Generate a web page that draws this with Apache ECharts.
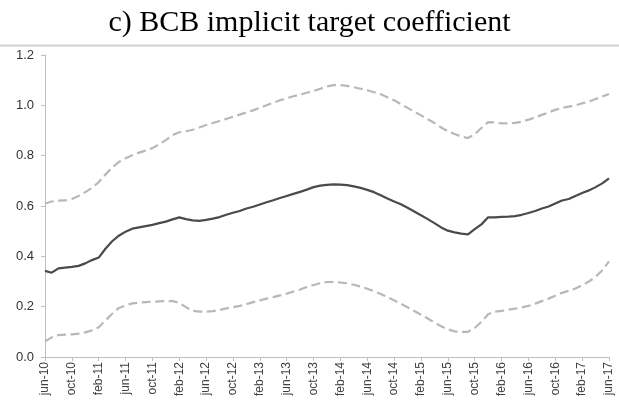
<!DOCTYPE html>
<html>
<head>
<meta charset="utf-8">
<script src="https://cdn.jsdelivr.net/npm/echarts@6/dist/echarts.min.js"></script>
<style>
html,body{margin:0;padding:0;background:#fff;}
#chart{width:619px;height:400px;}
</style>
</head>
<body>
<div id="chart"></div>
<script>
var titleText = 'c) BCB implicit target coefficient';

var categories = [
 'jun-10','jul-10','aug-10','sep-10','oct-10','nov-10','dec-10',
 'jan-11','feb-11','mar-11','apr-11','may-11','jun-11','jul-11','aug-11','sep-11','oct-11','nov-11','dec-11',
 'jan-12','feb-12','mar-12','apr-12','may-12','jun-12','jul-12','aug-12','sep-12','oct-12','nov-12','dec-12',
 'jan-13','feb-13','mar-13','apr-13','may-13','jun-13','jul-13','aug-13','sep-13','oct-13','nov-13','dec-13',
 'jan-14','feb-14','mar-14','apr-14','may-14','jun-14','jul-14','aug-14','sep-14','oct-14','nov-14','dec-14',
 'jan-15','feb-15','mar-15','apr-15','may-15','jun-15','jul-15','aug-15','sep-15','oct-15','nov-15','dec-15',
 'jan-16','feb-16','mar-16','apr-16','may-16','jun-16','jul-16','aug-16','sep-16','oct-16','nov-16','dec-16',
 'jan-17','feb-17','mar-17','apr-17','may-17','jun-17'
];

var coefficient = [
 0.342,0.335,0.352,0.355,0.358,0.362,0.372,0.385,0.395,0.43,
 0.46,0.482,0.498,0.51,0.515,0.52,0.525,0.532,0.538,0.547,
 0.555,0.548,0.543,0.541,0.545,0.55,0.556,0.565,0.573,0.58,
 0.59,0.597,0.606,0.615,0.623,0.632,0.64,0.648,0.656,0.665,
 0.675,0.681,0.684,0.686,0.685,0.683,0.678,0.672,0.664,0.655,
 0.643,0.63,0.618,0.607,0.593,0.578,0.563,0.548,0.532,0.515,
 0.502,0.495,0.49,0.487,0.508,0.527,0.555,0.555,0.557,0.558,
 0.56,0.565,0.572,0.58,0.59,0.598,0.61,0.622,0.628,0.64,
 0.652,0.662,0.675,0.69,0.71
];

var upperBand = [
 0.61,0.618,0.621,0.622,0.628,0.64,0.655,0.672,0.695,0.725,
 0.753,0.775,0.79,0.802,0.812,0.82,0.83,0.845,0.862,0.882,
 0.893,0.897,0.903,0.912,0.922,0.93,0.938,0.946,0.955,0.963,
 0.972,0.98,0.99,1.0,1.01,1.02,1.028,1.036,1.043,1.05,
 1.057,1.066,1.075,1.08,1.08,1.077,1.072,1.066,1.06,1.052,
 1.044,1.032,1.02,1.005,0.99,0.975,0.96,0.945,0.93,0.912,
 0.897,0.886,0.876,0.87,0.885,0.91,0.933,0.932,0.928,0.928,
 0.93,0.935,0.943,0.952,0.962,0.972,0.982,0.99,0.995,1.0,
 1.008,1.015,1.025,1.035,1.045
];

var lowerBand = [
 0.062,0.078,0.087,0.089,0.09,0.093,0.098,0.106,0.118,0.145,
 0.172,0.195,0.205,0.213,0.216,0.218,0.22,0.221,0.222,0.222,
 0.215,0.198,0.184,0.18,0.18,0.182,0.187,0.193,0.198,0.203,
 0.21,0.218,0.225,0.232,0.238,0.245,0.252,0.26,0.268,0.278,
 0.286,0.293,0.298,0.298,0.296,0.293,0.287,0.28,0.271,0.262,
 0.25,0.238,0.225,0.212,0.198,0.183,0.168,0.153,0.137,0.122,
 0.11,0.102,0.1,0.1,0.115,0.14,0.17,0.18,0.183,0.188,
 0.192,0.197,0.203,0.212,0.222,0.232,0.243,0.255,0.263,0.272,
 0.285,0.3,0.318,0.345,0.38
];

var yMin = 0, yMax = 1.2, yStep = 0.2;

var chart = echarts.init(document.getElementById('chart'), null, {renderer:'canvas'});
var labelFont = '"Liberation Sans", Arial, sans-serif';
chart.setOption({
  animation: false,
  backgroundColor: '#ffffff',
  title: {
    text: titleText,
    left: 'center',
    top: 3,
    textStyle: {fontFamily: '"Liberation Serif","Times New Roman",serif', fontSize: 30, fontWeight: 'normal', color: '#000'}
  },
  graphic: [{
    type: 'line',
    shape: {x1: 0, y1: 45.5, x2: 619, y2: 45.5},
    style: {stroke: '#d0d0d0', lineWidth: 2}
  }],
  grid: {left: 45, right: 10, top: 55, bottom: 43, containLabel: false},
  xAxis: {
    type: 'category',
    data: categories,
    boundaryGap: false,
    axisLine: {lineStyle: {color: '#bfbfbf', width: 1}},
    axisTick: {show: true, interval: 3, length: 4, lineStyle: {color: '#bfbfbf'}},
    axisLabel: {interval: 3, rotate: 90, margin: 5, fontSize: 12, color: '#404040', fontFamily: labelFont},
    splitLine: {show: false}
  },
  yAxis: {
    type: 'value',
    min: yMin, max: yMax, interval: yStep,
    axisLine: {show: true, lineStyle: {color: '#bfbfbf', width: 1}},
    axisTick: {show: true, length: 4, lineStyle: {color: '#bfbfbf'}},
    axisLabel: {margin: 11, fontSize: 13, color: '#333333', fontFamily: labelFont,
      formatter: function(v){ return v.toFixed(1); }},
    splitLine: {show: false}
  },
  series: [
    {name: 'upper', type: 'line', data: upperBand, symbol: 'none',
     lineStyle: {color: '#b8b8b8', width: 2.2, type: [9, 4.5]}},
    {name: 'lower', type: 'line', data: lowerBand, symbol: 'none',
     lineStyle: {color: '#b8b8b8', width: 2.2, type: [9, 4.5]}},
    {name: 'coefficient', type: 'line', data: coefficient, symbol: 'none',
     lineStyle: {color: '#4a4a4a', width: 2.2}}
  ]
});
</script>
</body>
</html>
